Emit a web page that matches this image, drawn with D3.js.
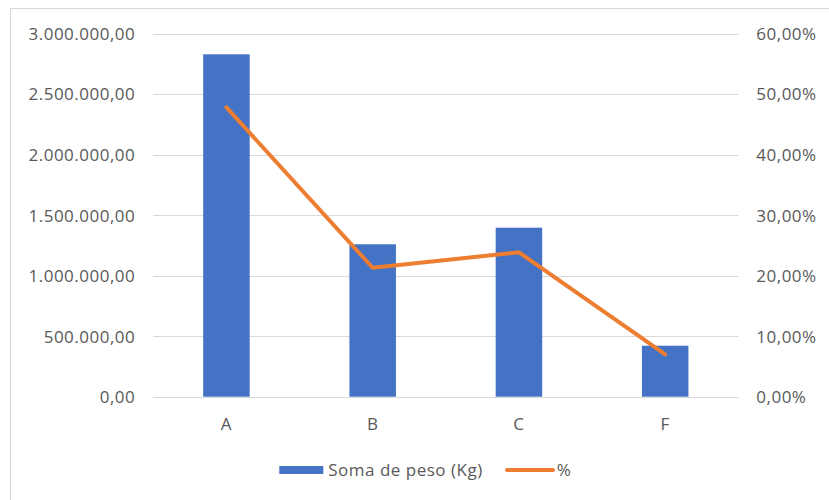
<!DOCTYPE html>
<html>
<head>
<meta charset="utf-8">
<script src="https://cdn.jsdelivr.net/npm/d3@7"></script>
<style>
  html, body { margin: 0; padding: 0; background: #fff; }
  svg { display: block; font-family: "Open Sans", "Noto Sans", sans-serif; }
</style>
</head>
<body>
<svg id="chart" width="829" height="500"></svg>
<script>
// Categories and series
const categories = ["A", "B", "C", "F"];
const pesoKg = [2828000, 1259000, 1396000, 421000];
const percent = [0.478, 0.213, 0.2385, 0.070];
const leftTicks = [0, 500000, 1000000, 1500000, 2000000, 2500000, 3000000];
const rightTicks = [0, 0.1, 0.2, 0.3, 0.4, 0.5, 0.6];
const seriesNames = ["Soma de peso (Kg)", "%"];

const W = 829, H = 500;
const plot = { left: 153.3, right: 738.3, top: 33.5, bottom: 396.7 };
const textColor = "#595959";
const gridColor = "#d9d9d9";
const barColor = "#4472C4";
const lineColor = "#ED7D31";
const fontSize = 17;
const spacing = 0.5;

const svg = d3.select("#chart");

// Chart frame
svg.append("rect")
  .attr("x", 10.5).attr("y", 8.5)
  .attr("width", W + 10).attr("height", H + 10)
  .attr("fill", "none").attr("stroke", "#d9d9d9").attr("stroke-width", 1.2);

const x = d3.scaleBand().domain(categories).range([plot.left, plot.right]).padding(0);
const yL = d3.scaleLinear().domain([0, 3000000]).range([plot.bottom, plot.top]);
const yR = d3.scaleLinear().domain([0, 0.6]).range([plot.bottom, plot.top]);

const fmtNum = d3.formatLocale({ decimal: ",", thousands: ".", grouping: [3], currency: ["R$", ""] });
const fmtLeft = fmtNum.format(",.2f");
const fmtRight = fmtNum.format(".2%");

// Gridlines
svg.append("g").selectAll("line").data(leftTicks).join("line")
  .attr("x1", plot.left).attr("x2", plot.right)
  .attr("y1", d => Math.round(yL(d)) + 0.5).attr("y2", d => Math.round(yL(d)) + 0.5)
  .attr("stroke", gridColor).attr("stroke-width", 1);

function styleText(sel) {
  sel.attr("fill", textColor).attr("font-size", fontSize)
    .attr("font-family", "Open Sans").attr("letter-spacing", spacing);
}

// Left axis
const axL = svg.append("g")
  .attr("transform", `translate(${plot.left},0)`)
  .call(d3.axisLeft(yL).tickValues(leftTicks).tickFormat(fmtLeft).tickSize(0).tickPadding(18));
axL.select(".domain").remove();
axL.selectAll("text").call(styleText).attr("dy", "0.35em");

// Right axis
const axR = svg.append("g")
  .attr("transform", `translate(${plot.right},0)`)
  .call(d3.axisRight(yR).tickValues(rightTicks).tickFormat(fmtRight).tickSize(0).tickPadding(18));
axR.select(".domain").remove();
axR.selectAll("text").call(styleText).attr("dy", "0.35em");

// Bottom axis
const axB = svg.append("g")
  .attr("transform", `translate(0,${plot.bottom})`)
  .call(d3.axisBottom(x).tickSize(0).tickPadding(27));
axB.select(".domain").remove();
axB.selectAll("text").call(styleText).attr("dy", "0.35em");

// Bars
const barW = x.bandwidth() * 0.318;
svg.append("g").selectAll("rect").data(categories).join("rect")
  .attr("x", d => x(d) + x.bandwidth() / 2 - barW / 2)
  .attr("width", barW)
  .attr("y", (d, i) => yL(pesoKg[i]))
  .attr("height", (d, i) => yL(0) - yL(pesoKg[i]))
  .attr("fill", barColor);

// Percentage line
const line = d3.line()
  .x((d, i) => x(categories[i]) + x.bandwidth() / 2)
  .y(d => yR(d));
svg.append("path").datum(percent)
  .attr("d", line)
  .attr("fill", "none").attr("stroke", lineColor)
  .attr("stroke-width", 4).attr("stroke-linejoin", "round").attr("stroke-linecap", "round");

// Legend
const leg = svg.append("g");
const legY = 470;
leg.append("rect").attr("x", 279.3).attr("y", legY - 4).attr("width", 44).attr("height", 8).attr("fill", barColor);
leg.append("text").attr("x", 328.3).attr("y", legY).attr("dy", "0.35em")
  .call(styleText).text(seriesNames[0]);
leg.append("line").attr("x1", 507).attr("x2", 553).attr("y1", legY).attr("y2", legY)
  .attr("stroke", lineColor).attr("stroke-width", 4).attr("stroke-linecap", "round");
leg.append("text").attr("x", 556.7).attr("y", legY).attr("dy", "0.35em")
  .call(styleText).text(seriesNames[1]);
</script>
</body>
</html>
